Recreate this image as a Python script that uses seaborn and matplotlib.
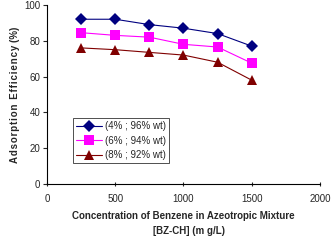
import matplotlib
matplotlib.use("Agg")
import matplotlib.pyplot as plt
import seaborn as sns
import pandas as pd

conc = [250, 500, 750, 1000, 1250, 1500]
s1 = [92, 92, 89, 87, 84, 77]
s2 = [84.5, 83, 82, 78, 76.5, 67.5]
s3 = [76, 75, 73.5, 72, 68, 58]
labels = ["(4% ; 96% wt)", "(6% ; 94% wt)", "(8% ; 92% wt)"]

rows = []
for lab, vals in zip(labels, [s1, s2, s3]):
    for c, v in zip(conc, vals):
        rows.append({"conc": c, "eff": v, "series": lab})
df = pd.DataFrame(rows)

sns.set_style("white")
plt.rcParams['font.family'] = ['Liberation Sans', 'DejaVu Sans']

fig = plt.figure(figsize=(3.36, 2.46), dpi=100)
ax = fig.add_axes([0.14, 0.252, 0.812, 0.728])

palette = {labels[0]: "#000080", labels[1]: "#FF00FF", labels[2]: "#800000"}
markers = {labels[0]: "D", labels[1]: "s", labels[2]: "^"}
sns.lineplot(data=df, x="conc", y="eff", hue="series", style="series",
             palette=palette, markers=markers, dashes=False, ax=ax,
             linewidth=0.8, markersize=6.5, markeredgewidth=0)

ax.set_xlim(0, 2000)
ax.set_ylim(0, 100)
ax.set_xticks([0, 500, 1000, 1500, 2000])
ax.set_yticks([0, 20, 40, 60, 80, 100])
ax.tick_params(axis='x', labelsize=7, length=3, width=0.8, direction='inout',
               bottom=True, pad=6)
ax.tick_params(axis='y', labelsize=7, length=3, width=0.8, direction='out',
               left=True, pad=2)
for s in ["top", "right"]:
    ax.spines[s].set_visible(False)
for s in ["left", "bottom"]:
    ax.spines[s].set_color("black")
    ax.spines[s].set_linewidth(0.8)

ax.set_xlabel("Concentration of Benzene in Azeotropic Mixture",
              fontsize=7, fontweight='bold', labelpad=5)
ax.text(0.52, -0.235, "[BZ-CH] (m g/L)", transform=ax.transAxes,
        fontsize=7, fontweight='bold', ha='center', va='top')
ylab = "\u200a".join("Adsorption") + "\u2009 " + "\u200a".join("Efficiency") + " (%)"
ax.set_ylabel(ylab, fontsize=7, fontweight='bold', labelpad=3)

leg = ax.legend(loc="lower left", bbox_to_anchor=(0.095, 0.115), fontsize=7,
                frameon=True, fancybox=False, edgecolor="black",
                borderpad=0.35, handlelength=2.6, labelspacing=0.45,
                handletextpad=0.3, borderaxespad=0)
leg.get_frame().set_linewidth(0.6)

fig.savefig("out.png", dpi=100)
